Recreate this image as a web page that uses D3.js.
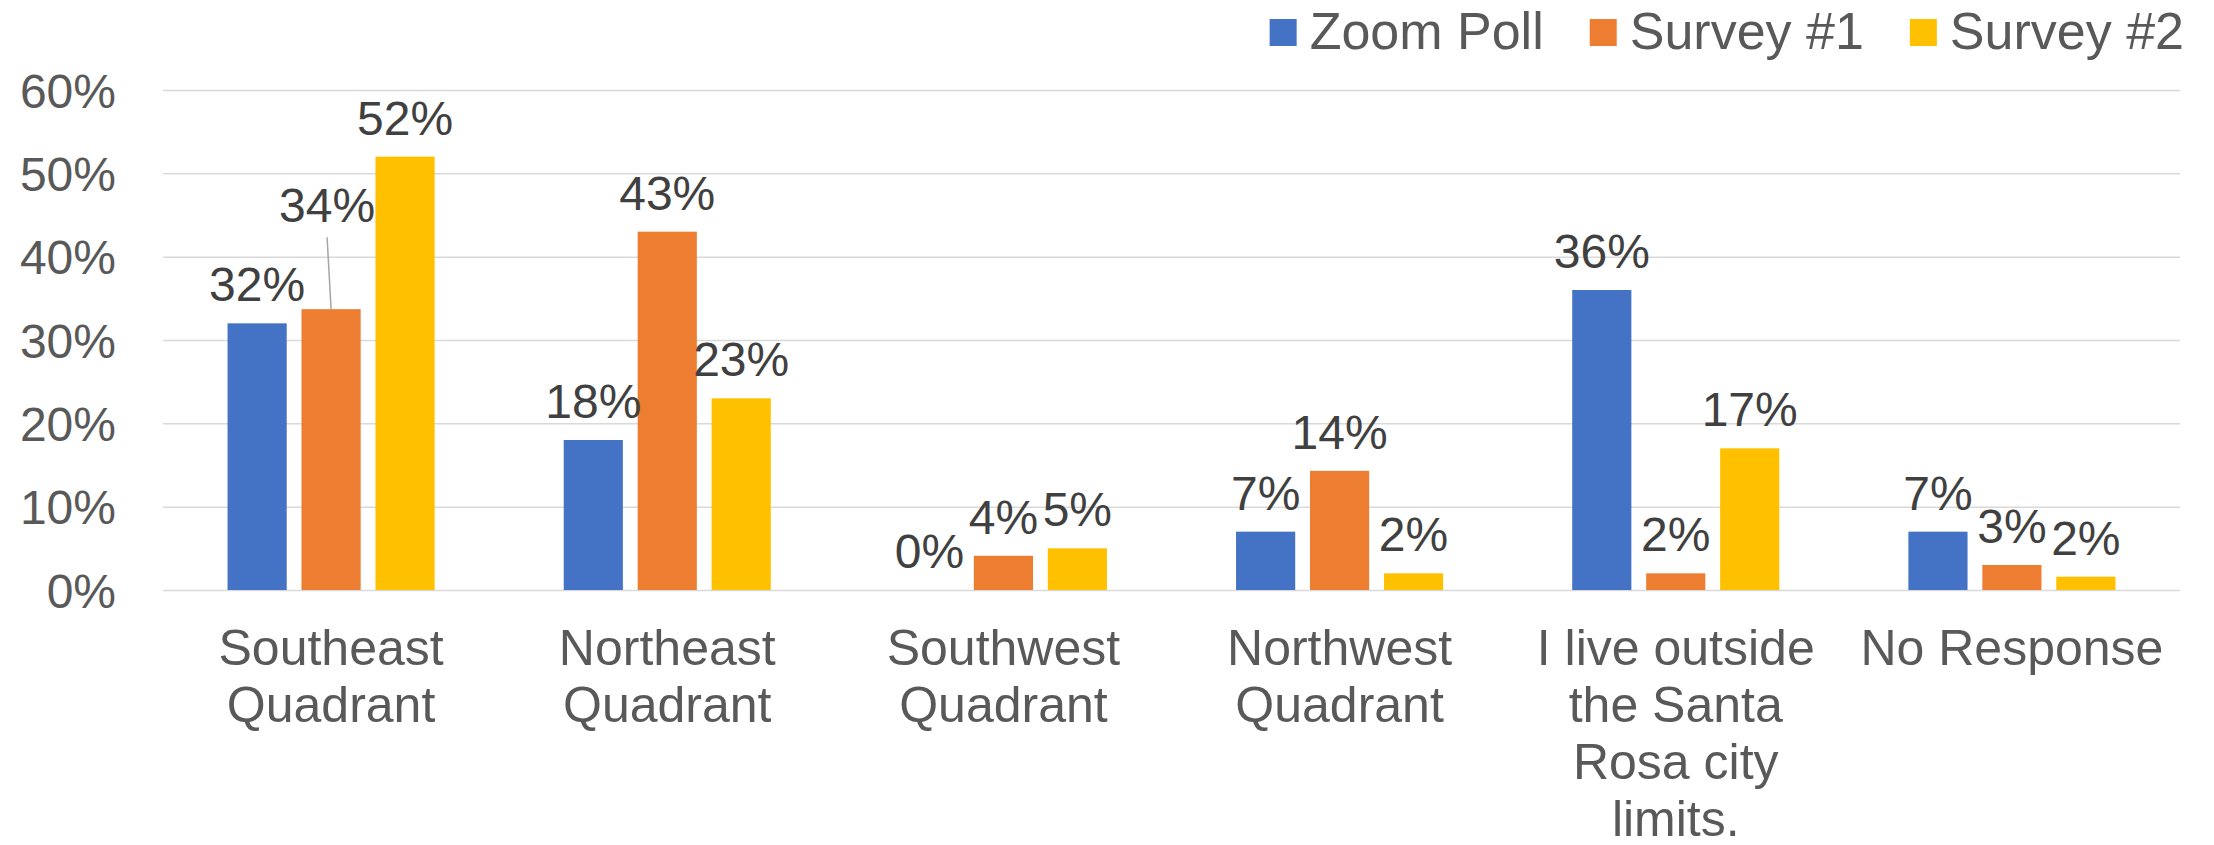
<!DOCTYPE html>
<html>
<head>
<meta charset="utf-8">
<script src="https://cdn.jsdelivr.net/npm/d3@7"></script>
<style>
  body { margin: 0; background: #fff; }
  svg { font-family: "Liberation Sans", Arial, sans-serif; }
</style>
</head>
<body>
<svg id="chart"></svg>
<script>
var categories = ["Southeast Quadrant", "Northeast Quadrant", "Southwest Quadrant",
  "Northwest Quadrant", "I live outside the Santa Rosa city limits.", "No Response"];
var seriesNames = ["Zoom Poll", "Survey #1", "Survey #2"];
var zoomPoll = [0.32, 0.18, 0, 0.07, 0.36, 0.07];
var survey1 = [0.337, 0.43, 0.041, 0.143, 0.02, 0.03];
var survey2 = [0.52, 0.23, 0.05, 0.02, 0.17, 0.016];
var yTicks = [0, 0.1, 0.2, 0.3, 0.4, 0.5, 0.6];
var colors = ["#4472C4", "#ED7D31", "#FFC000"];

var W = 2214, H = 845;
var plotLeft = 163, plotRight = 2180, plotTop = 90, plotBottom = 590;

var svg = d3.select('#chart').attr('width', W).attr('height', H);

var y = d3.scaleLinear().domain([0, 0.6]).range([plotBottom, plotTop]);
var x0 = d3.scaleBand().domain(categories).range([plotLeft, plotRight])
  .paddingInner(0.384).paddingOuter(0.192);
var x1 = d3.scaleBand().domain(seriesNames).range([0, x0.bandwidth()])
  .paddingInner(0.2);
var color = d3.scaleOrdinal().domain(seriesNames).range(colors);
var pct = d3.format(".0%");

// gridlines + y labels
var yAxis = svg.append('g')
  .attr('transform', 'translate(' + plotLeft + ',0)')
  .call(d3.axisLeft(y).tickValues(yTicks).tickFormat(pct)
    .tickSize(-(plotRight - plotLeft)).tickPadding(47));
yAxis.select('.domain').remove();
yAxis.selectAll('line').attr('stroke', '#D9D9D9').attr('stroke-width', 1.5);
yAxis.selectAll('text')
  .attr('fill', '#595959').attr('font-size', 48).attr('dy', '0.36em')
  .style('font-family', '"Liberation Sans", Arial, sans-serif');

// rows of values
var values = [zoomPoll, survey1, survey2];
var rows = categories.map(function(c, i) {
  return seriesNames.map(function(s, j) {
    return {cat: c, series: s, value: values[j][i]};
  });
});

var groups = svg.append('g').selectAll('g').data(rows).enter().append('g')
  .attr('transform', function(d) { return 'translate(' + x0(d[0].cat) + ',0)'; });

groups.selectAll('rect').data(function(d) { return d; }).enter().append('rect')
  .attr('x', function(d) { return x1(d.series); })
  .attr('y', function(d) { return y(d.value); })
  .attr('width', x1.bandwidth())
  .attr('height', function(d) { return y(0) - y(d.value); })
  .attr('fill', function(d) { return color(d.series); });

// label moved by hand in the original, with a leader line
var nudge = {"Survey #1|Southeast Quadrant": [-4, -65]};

groups.selectAll('text').data(function(d) { return d; }).enter().append('text')
  .attr('text-anchor', 'middle')
  .attr('font-size', 48)
  .attr('fill', '#404040')
  .attr('x', function(d) {
    var n = nudge[d.series + '|' + d.cat];
    return x1(d.series) + x1.bandwidth() / 2 + (n ? n[0] : 0);
  })
  .attr('y', function(d) {
    var n = nudge[d.series + '|' + d.cat];
    return y(d.value) - 22 + (n ? n[1] : 0);
  })
  .text(function(d) { return pct(d.value); });

groups.each(function(row) {
  var g = d3.select(this);
  row.forEach(function(d) {
    var n = nudge[d.series + '|' + d.cat];
    if (!n) return;
    var cx = x1(d.series) + x1.bandwidth() / 2;
    g.append('line')
      .attr('x1', cx + n[0]).attr('y1', y(d.value) - 22 + n[1] + 15)
      .attr('x2', cx).attr('y2', y(d.value))
      .attr('stroke', '#A6A6A6').attr('stroke-width', 1.5);
  });
});

// category axis
var xAxis = svg.append('g')
  .attr('transform', 'translate(0,' + plotBottom + ')')
  .call(d3.axisBottom(x0).tickSize(0).tickPadding(0));
xAxis.select('.domain').remove();
xAxis.selectAll('text')
  .attr('fill', '#595959').attr('font-size', 50).attr('y', 75).attr('dy', 0)
  .style('font-family', '"Liberation Sans", Arial, sans-serif')
  .call(wrap, 320);

function wrap(texts, width) {
  texts.each(function() {
    var text = d3.select(this);
    var words = text.text().split(/\s+/);
    var line = [];
    text.text(null);
    var tspan = text.append('tspan').attr('x', 0).attr('dy', 0);
    words.forEach(function(w) {
      line.push(w);
      tspan.text(line.join(' '));
      if (tspan.node().getComputedTextLength() > width && line.length > 1) {
        line.pop();
        tspan.text(line.join(' '));
        line = [w];
        tspan = text.append('tspan').attr('x', 0).attr('dy', 57).text(w);
      }
    });
  });
}

// legend, right aligned
var legend = svg.append('g');
var items = legend.selectAll('g').data(seriesNames).enter().append('g');
items.append('rect')
  .attr('y', 19).attr('width', 27).attr('height', 27)
  .attr('fill', function(d) { return color(d); });
items.append('text')
  .attr('x', 40).attr('y', 49)
  .attr('font-size', 52).attr('fill', '#595959')
  .text(function(d) { return d; });
var widths = [];
items.each(function() { widths.push(this.getBBox().width); });
var lx = 2184 - d3.sum(widths) - 46 * (widths.length - 1);
items.attr('transform', function(d, i) {
  var t = 'translate(' + lx + ',0)';
  lx += widths[i] + 46;
  return t;
});
</script>
</body>
</html>
